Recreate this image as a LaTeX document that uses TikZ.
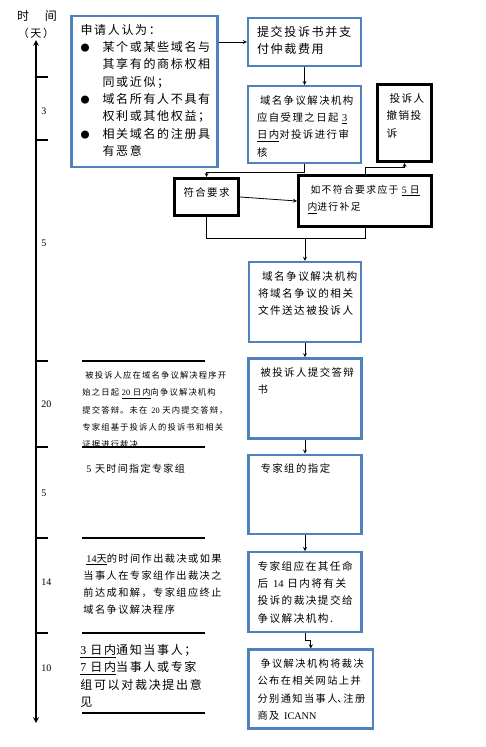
\documentclass[tikz,border=0pt]{standalone}
\usepackage{fontspec}
\setmainfont{Liberation Serif}
\newfontfamily\cjk{Noto Sans CJK SC}[LetterSpace=14]
\usetikzlibrary{positioning, arrows, calc}
\definecolor{wordblue}{RGB}{79,129,189}
\newcommand{\fsz}[1]{\fontsize{#1}{17.3}\selectfont}
\newcommand{\lat}[1]{\textrm{#1}}

\tikzset{
  bluebox/.style={draw=wordblue, line width=2.4pt, inner xsep=9pt, inner ysep=6pt,
    align=left, text height=12pt, font=\cjk\fsz{#1}},
  blackbox/.style={draw, line width=3pt, inner xsep=9pt, inner ysep=6pt,
    align=left, text height=12pt, font=\cjk\fsz{#1}},
  note/.style={anchor=base west, inner sep=0pt, align=left, font=\cjk\fsz{#1}},
  daytick/.style={line width=2pt},
  sepline/.style={line width=2.2pt},
  days/.style={anchor=west, inner sep=0pt, font=\fontsize{10}{12}\selectfont},
}

\begin{document}
\begin{tikzpicture}[x=1pt, y=-1pt, >=stealth, line width=0.8pt]
  \useasboundingbox (0,0) rectangle (486,747);

  % time axis
  \node[font=\cjk\fsz{12}, inner sep=0pt] (timehead) at (37,16) {时\hspace{16pt}间};
  \node[font=\cjk\fsz{11}, inner sep=0pt] (unit) at (36,33) {（天）};
  \coordinate (ttop) at (36,40);
  \coordinate (tbot) at (36,723);
  \draw[<->, line width=1.6pt] (ttop) -- (tbot);
  \foreach \y in {77,140,361,447,538,633}
    \draw[daytick] (36,\y) -- (48,\y);
  \foreach \y/\d in {111/3, 243/5, 404/20, 493/5, 582/14, 668/10}
    \node[days] (d\y) at (41,\y) {\d};
  \foreach \y in {361,447,538,633,713}
    \draw[sepline] (82,\y) -- (205,\y);

  % right column
  \node[bluebox=12, text width=128pt, text depth=126.6pt] (claim) at (144.5,91.5)
    {申请人认为：\\
     \makebox[22pt][l]{\fsz{9}●}某个或某些域名与\\
     \hspace*{22pt}其享有的商标权相\\
     \hspace*{22pt}同或近似；\\
     \makebox[22pt][l]{\fsz{9}●}域名所有人不具有\\
     \hspace*{22pt}权利或其他权益；\\
     \makebox[22pt][l]{\fsz{9}●}相关域名的注册具\\
     \hspace*{22pt}有恶意};
  \node[bluebox=12, text width=95pt, text depth=23.6pt] (submit) at (304.5,42)
    {提交投诉书并支\\付仲裁费用};
  \node[bluebox=10.4, text width=95pt, text depth=53pt, below=18pt of submit] (review)
    {\hspace*{3pt}域名争议解决机构\\应自受理之日起~\underline{\lat{3}}\\\underline{日内}对投诉进行审\\核};
  \node[blackbox=10.6, text width=36pt, text depth=53pt] (withdraw) at (404.5,123)
    {\hspace*{3pt}投诉人\\撤销投\\诉};
  \node[blackbox=10.4, text width=46pt, text depth=13pt] (meet) at (206.5,197) {符合要求};
  \node[blackbox=9.8, text width=115pt, text depth=27pt] (amend) at (365,201)
    {\hspace*{3pt}如不符合要求应于~\underline{\lat{5}~日}\\\underline{内}进行补足};
  \node[bluebox=10.6, text width=94pt, text depth=56pt] (deliver) at (305,302)
    {\hspace*{4pt}域名争议解决机构\\将域名争议的相关\\文件送达被投诉人};
  \node[bluebox=10.4, text width=95pt, text depth=56pt, below=14pt of deliver] (answer)
    {\hspace*{3pt}被投诉人提交答辩\\书};
  \node[bluebox=10.4, text width=95pt, text depth=55pt, below=14pt of answer] (panel)
    {\hspace*{3pt}专家组的指定};
  \node[bluebox=10.6, text width=95pt, text depth=56pt, below=16pt of panel] (decide)
    {专家组应在其任命\\后~\lat{14}~日内将有关\\投诉的裁决提交给\\争议解决机构.};
  \node[bluebox=10.2, text width=106.6pt, text depth=55pt, below=15pt of decide.south west,
    anchor=north west] (publish)
    {\hspace*{3pt}争议解决机构将裁决\\公布在相关网站上并\\分别通知当事人\makebox[6pt][l]{、}注册\\商及~\lat{ICANN}};

  % left notes
  \node[note=8.3, text width=160pt] (reply) at (82,378.5)
    {\hspace*{3pt}被投诉人应在域名争议解决程序开\\始之日起~\underline{\lat{20}~日内}向争议解决机构\\提交答辩。未在~\lat{20}~天内提交答辩，\\专家组基于投诉人的投诉书和相关\\证据进行裁决};
  \node[note=10] (assign) at (86,472) {\lat{5}~天时间指定专家组};
  \node[note=10.2, text width=150pt] (ruling) at (83,562)
    {\hspace*{3pt}\underline{\lat{14}天}的时间作出裁决或如果\\当事人在专家组作出裁决之\\前达成和解，专家组应终止\\域名争议解决程序};
  \node[note=12, text width=140pt] (notify) at (80,654.5)
    {\underline{\lat{3}~日内}通知当事人；\\\underline{\lat{7}~日内}当事人或专家\\组可以对裁决提出意\\见};

  % connectors
  \draw[->] (claim.east |- submit.west) -- (submit.west);
  \draw[->] (submit) -- (review);
  \draw[->] (review.south) -- ++(0,8) -| (meet.north);
  \draw[->] (meet.east) -- (amend.west);
  \draw[->] (amend.north) -- ++(0,-7) -| (withdraw.south);
  \coordinate (merge) at (305,238);
  \draw (meet.south) |- (merge);
  \draw (amend.south) |- (merge);
  \draw[->] (merge) -- (deliver.north);
  \draw[->] (deliver) -- (answer);
  \draw[->] (answer) -- (panel);
  \draw[->] (panel) -- (decide);
  \draw[->] (decide.south) -- ++(0,7) -| (publish.north);
\end{tikzpicture}
\end{document}
